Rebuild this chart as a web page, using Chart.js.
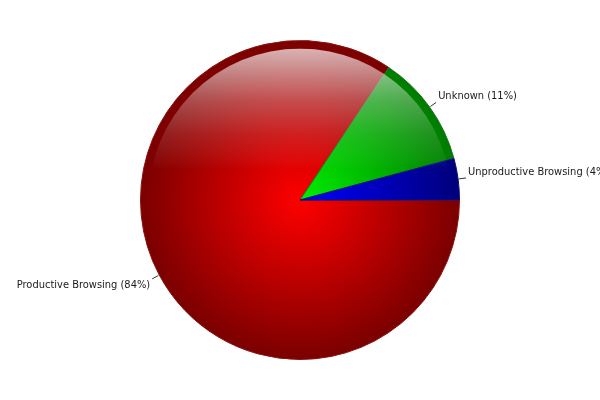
<!DOCTYPE html>
<html>
<head>
<meta charset="utf-8">
<script src="https://cdn.jsdelivr.net/npm/chart.js@4/dist/chart.umd.min.js"></script>
<style>
  html, body { margin: 0; padding: 0; background: #fff; }
  #wrap { width: 600px; height: 400px; }
</style>
</head>
<body>
<div id="wrap"><canvas id="c" width="600" height="400"></canvas></div>
<script>
// ---- data ----
const categories = ["Productive Browsing", "Unknown", "Unproductive Browsing"];
const shares = [84.4, 11.4, 4.2];
const shareLabels = ["84%", "11%", "4%"];

// ---- styles ----
const brightColors = ["#ff0000", "#00f000", "#0000ff"];
const darkColors = ["#7a0000", "#007a00", "#00007a"];
const edgeColors = ["#8a1010", "#1c7a1c", "#10107a"];
const FONT = '11px "DejaVu Sans Condensed", "DejaVu Sans", Tahoma, sans-serif';

function geom(chart) {
  const a = chart.chartArea;
  if (!a || !isFinite(a.left) || !isFinite(a.right)) return null;
  const cx = (a.left + a.right) / 2, cy = (a.top + a.bottom) / 2;
  const r = Math.min(a.right - a.left, a.bottom - a.top) / 2;
  if (!(r > 0)) return null;
  return { cx, cy, r };
}

function radialFill(ctx, i) {
  const chart = ctx.chart;
  const g0 = geom(chart);
  if (!g0) return brightColors[i];
  const g = chart.ctx.createRadialGradient(g0.cx, g0.cy, 0, g0.cx, g0.cy, g0.r);
  g.addColorStop(0, brightColors[i]);
  g.addColorStop(1, darkColors[i]);
  return g;
}

const glossPlugin = {
  id: 'gloss',
  afterDatasetsDraw(chart) {
    const meta = chart.getDatasetMeta(0);
    const el = meta.data[0];
    if (!el || !isFinite(el.x)) return;
    const ctx = chart.ctx;
    const cx = el.x, cy = el.y, r = el.outerRadius;
    ctx.save();
    ctx.beginPath();
    ctx.arc(cx, cy, r - 8, 0, Math.PI * 2);
    ctx.clip();
    const top = cy - r + 8, bot = cy - 30;
    const g = ctx.createLinearGradient(0, top, 0, bot);
    g.addColorStop(0, 'rgba(255,255,255,0.70)');
    g.addColorStop(0.43, 'rgba(255,255,255,0.30)');
    g.addColorStop(0.71, 'rgba(255,255,255,0.12)');
    g.addColorStop(0.92, 'rgba(255,255,255,0.04)');
    g.addColorStop(1, 'rgba(255,255,255,0)');
    ctx.fillStyle = g;
    ctx.fillRect(cx - r, top, 2 * r, bot - top);
    ctx.restore();
  }
};

const labelPlugin = {
  id: 'outLabels',
  afterDraw(chart) {
    const meta = chart.getDatasetMeta(0);
    const ctx = chart.ctx;
    ctx.save();
    ctx.font = FONT;
    ctx.fillStyle = '#1a1a1a';
    ctx.strokeStyle = '#333';
    ctx.lineWidth = 1;
    meta.data.forEach((arc, i) => {
      if (!isFinite(arc.x)) return;
      const mid = (arc.startAngle + arc.endAngle) / 2;
      const r = arc.outerRadius;
      const c = Math.cos(mid), s = Math.sin(mid);
      const x1 = arc.x + c * (r + 1), y1 = arc.y + s * (r + 1);
      const x2 = arc.x + c * (r + 8), y2 = arc.y + s * (r + 8);
      ctx.beginPath();
      ctx.moveTo(x1, y1);
      ctx.lineTo(x2, y2);
      ctx.stroke();
      const txt = categories[i] + ' (' + shareLabels[i] + ')';
      ctx.textBaseline = 'middle';
      const ty = y2 + (s < 0 ? -6 : 6);
      if (c >= 0) {
        ctx.textAlign = 'left';
        ctx.fillText(txt, x2 + 2, ty);
      } else {
        ctx.textAlign = 'right';
        ctx.fillText(txt, x2 - 2, ty);
      }
    });
    ctx.restore();
  }
};

new Chart(document.getElementById('c'), {
  type: 'pie',
  data: {
    labels: categories,
    datasets: [{
      data: shares,
      backgroundColor: (ctx) => radialFill(ctx, ctx.dataIndex),
      borderColor: edgeColors,
      borderWidth: 1
    }]
  },
  options: {
    responsive: false,
    animation: false,
    rotation: 90,
    layout: { padding: { top: 40, bottom: 40, left: 0, right: 0 } },
    plugins: {
      legend: { display: false },
      tooltip: { enabled: false }
    }
  },
  plugins: [glossPlugin, labelPlugin]
});
</script>
</body>
</html>
